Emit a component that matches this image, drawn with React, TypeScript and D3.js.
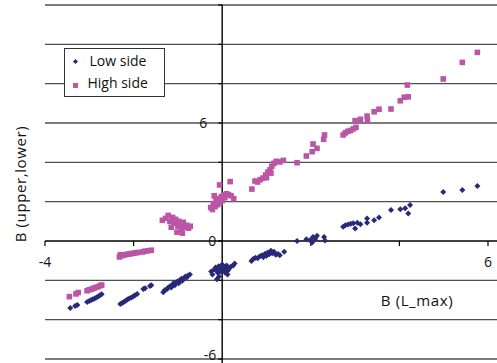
import React from "react";
import * as d3 from "d3";

// Low side: B(upper,lower) against B(L_max)
const lowX = [
  -3.43, -3.32, -3.27, -3.05, -3.0, -2.96, -2.92, -2.88, -2.84, -2.8, -2.76, -2.72,
  -2.3, -2.26, -2.22, -2.18, -2.14, -2.1, -2.05, -2.01, -1.97, -1.92, -1.78, -1.74, -1.63, -1.6,
  -1.33, -1.3, -1.25, -1.22, -1.18, -1.15, -1.12, -1.1, -1.07, -1.04, -1.0, -0.98, -0.95, -0.92, -0.9, -0.86, -0.83, -0.8, -0.77, -0.73,
  -0.25, -0.22, -0.18, -0.15, -0.12, -0.1, -0.08, -0.05, -0.03, 0.0, 0.02, 0.04, 0.06, 0.08, 0.1, 0.13, 0.16, 0.2, 0.25, 0.28, -0.12, -0.07, 0.12,
  0.66, 0.7, 0.75, 0.8, 0.85, 0.9, 0.93, 0.97, 1.0, 1.03, 1.06, 1.1, 1.13, 1.17, 1.21, 1.26, 1.3, 1.4,
  1.69, 1.9, 1.99, 2.03, 2.05, 2.14, 2.1, 2.3, 2.32,
  2.73, 2.78, 2.84, 2.9, 2.96, 3.05, 3.0, 3.12, 3.27, 3.27, 3.43, 3.54, 3.81, 4.02, 4.13, 4.2, 4.24,
  4.99, 5.42, 5.76,
];
const lowY = [
  -3.41, -3.3, -3.25, -3.1, -3.05, -3.0, -2.96, -2.92, -2.87, -2.82, -2.76, -2.71,
  -3.2, -3.15, -3.1, -3.04, -2.98, -2.93, -2.87, -2.82, -2.76, -2.7, -2.44, -2.4, -2.29, -2.25,
  -2.6, -2.5, -2.45, -2.38, -2.3, -2.36, -2.22, -2.15, -2.25, -2.1, -2.05, -2.15, -1.98, -1.92, -2.02, -1.88, -1.8, -1.85, -1.75, -1.7,
  -1.55, -1.7, -1.45, -1.35, -1.5, -1.62, -1.28, -1.4, -1.55, -1.2, -1.45, -1.32, -1.6, -1.4, -1.25, -1.5, -1.38, -1.3, -1.25, -1.15, -1.95, -1.8, -1.7,
  -1.02, -0.92, -0.85, -0.88, -0.78, -0.72, -0.82, -0.65, -0.75, -0.58, -0.68, -0.5, -0.62, -0.55, -0.7, -0.66, -0.72, -0.55,
  0.0, 0.09, 0.05, -0.08, 0.2, 0.27, 0.12, 0.2, 0.02,
  0.73, 0.8, 0.84, 0.88, 0.9, 0.93, 0.63, 0.85, 1.15, 0.93, 1.06, 1.2, 1.58, 1.61, 1.66, 1.4, 1.83,
  2.49, 2.59, 2.8,
];

// High side: B(upper,lower) against B(L_max)
const highX = [
  -3.45, -3.3, -3.25, -3.05, -3.0, -2.95, -2.9, -2.85, -2.8, -2.75, -2.72,
  -2.32, -2.3, -2.28, -2.24, -2.2, -2.15, -2.1, -2.05, -2.0, -1.95, -1.9, -1.8, -1.75, -1.68, -1.6,
  -1.35, -1.28, -1.22, -1.18, -1.12, -1.08, -1.05, -1.0, -0.98, -0.95, -0.92, -0.88, -0.85, -0.8, -0.76, -0.72, -1.15, -1.02, -0.9,
  -0.26, -0.22, -0.2, -0.16, -0.14, -0.1, -0.08, -0.05, -0.02, 0.0, 0.03, 0.06, 0.1, 0.14, 0.2, 0.26, -0.06, 0.18, -0.18,
  0.67, 0.74, 0.8, 0.86, 0.92, 0.98, 1.03, 1.08, 1.12, 1.17, 1.22, 1.3, 1.38, 1.0, 1.1,
  1.69, 1.9, 2.03, 2.05, 2.14, 2.29, 2.31,
  2.73, 2.78, 2.84, 2.9, 2.96, 3.02, 3.0, 3.12, 3.27, 3.28, 3.43, 3.54, 3.81, 4.02, 4.11, 4.2, 4.18,
  4.99, 5.42, 5.76,
];
const highY = [
  -2.83, -2.69, -2.62, -2.53, -2.48, -2.45, -2.4, -2.36, -2.32, -2.27, -2.24,
  -0.81, -0.7, -0.75, -0.72, -0.7, -0.68, -0.66, -0.64, -0.62, -0.6, -0.58, -0.56, -0.52, -0.5, -0.47,
  1.05, 1.15, 1.3, 1.0, 1.2, 0.9, 1.1, 0.75, 1.0, 0.85, 0.6, 0.95, 0.7, 0.8, 0.65, 0.75, 0.7, 0.45, 0.4,
  1.7, 1.6, 1.9, 1.75, 2.05, 1.85, 2.15, 1.95, 2.25, 2.05, 2.35, 2.2, 2.4, 2.35, 2.3, 2.15, 2.85, 3.02, 2.3,
  2.64, 3.05, 3.0, 3.12, 3.2, 3.35, 3.5, 3.62, 3.8, 3.95, 4.05, 4.02, 4.1, 3.22, 3.45,
  3.98, 4.32, 4.54, 4.93, 4.71, 5.17, 5.39,
  5.39, 5.5, 5.58, 5.62, 5.7, 5.78, 6.12, 6.19, 6.35, 6.12, 6.57, 6.7, 6.71, 7.13, 7.31, 7.33, 7.93,
  8.24, 9.08, 9.59,
];

const gridValues = [-6, -4, -2, 0, 2, 4, 6, 8, 10, 12];
const xTickValues = [-4, -2, 2, 4, 6];
const xTickLabels = [-4, 6];
const yTickLabels = [-6, 0, 6];
const seriesNames = ["Low side", "High side"];

const W = 497;
const H = 363;
const LOW_COLOR = "#29297a";
const HIGH_COLOR = "#bb55a5";
const FONT = "'Open Sans', 'Noto Sans', sans-serif";

export default function App() {
  const x = d3.scaleLinear().domain([-4, 6]).range([45, 488]);
  const y = d3.scaleLinear().domain([-6, 12]).range([359, 5]);
  const x0 = x(0);
  const y0 = y(0);

  const low = lowX.map((v, i) => [v, lowY[i]] as [number, number]);
  const high = highX.map((v, i) => [v, highY[i]] as [number, number]);

  const diamond = (cx: number, cy: number, r: number) =>
    `M${cx},${cy - r}L${cx + r},${cy}L${cx},${cy + r}L${cx - r},${cy}Z`;

  // the lowest label sits just above the bottom edge
  const yLabelPos = (v: number) => (v === -6 ? y(v) - 4 : y(v));

  return (
    <svg
      width={W}
      height={H}
      style={{ position: "absolute", left: 0, top: 0, background: "#fff" }}
      fontFamily={FONT}
    >
      {/* horizontal gridlines */}
      {gridValues
        .filter((v) => v !== 0)
        .map((v) => (
          <line
            key={"g" + v}
            x1={x(-4)}
            x2={W}
            y1={y(v)}
            y2={y(v)}
            stroke="#505050"
            strokeWidth={1.3}
          />
        ))}

      {/* x axis */}
      <line x1={x(-4)} x2={W} y1={y0} y2={y0} stroke="#000" strokeWidth={1.4} />
      {xTickValues.map((v) => (
        <line key={"xt" + v} x1={x(v)} x2={x(v)} y1={y0} y2={y0 + 5} stroke="#000" strokeWidth={1.2} />
      ))}
      {xTickLabels.map((v) => (
        <text key={"xl" + v} x={x(v)} y={y0 + 26} fontSize={14} textAnchor="middle" fill="#111">
          {v}
        </text>
      ))}

      {/* y axis */}
      <line x1={x0} x2={x0} y1={y(12)} y2={H} stroke="#000" strokeWidth={1.4} />
      {gridValues.map((v) => (
        <line key={"yt" + v} x1={x0 - 4} x2={x0} y1={y(v)} y2={y(v)} stroke="#000" strokeWidth={1.2} />
      ))}
      {yTickLabels.map((v) => (
        <text
          key={"yl" + v}
          x={v === 6 ? x0 - 15 : x0 - 6}
          y={yLabelPos(v)}
          dy="0.35em"
          fontSize={14}
          textAnchor="end"
          fill="#111"
        >
          {v}
        </text>
      ))}

      {/* series */}
      {high.map(([a, b], i) => (
        <rect key={"h" + i} x={x(a) - 2.8} y={y(b) - 2.8} width={5.6} height={5.6} fill={HIGH_COLOR} />
      ))}
      {low.map(([a, b], i) => (
        <path key={"l" + i} d={diamond(x(a), y(b), 3)} fill={LOW_COLOR} />
      ))}

      {/* axis titles */}
      <text x={417} y={306} fontSize={15} textAnchor="middle" fill="#111" letterSpacing={0.6}>
        B (L_max)
      </text>
      <text
        transform={`translate(26,184) rotate(-90)`}
        fontSize={15}
        textAnchor="middle"
        fill="#111"
        letterSpacing={0.6}
      >
        B (upper,lower)
      </text>

      {/* legend */}
      <g transform="translate(64.5,48.5)">
        <rect width={100} height={48} fill="#fff" stroke="#333" strokeWidth={1} />
        <path d={diamond(11, 13, 2.5)} fill={LOW_COLOR} />
        <text x={25} y={13} dy="0.35em" fontSize={14} fill="#111">
          {seriesNames[0]}
        </text>
        <rect x={8.5} y={34.5} width={5} height={5} fill={HIGH_COLOR} />
        <text x={23} y={35} dy="0.35em" fontSize={14} fill="#111">
          {seriesNames[1]}
        </text>
      </g>
    </svg>
  );
}
